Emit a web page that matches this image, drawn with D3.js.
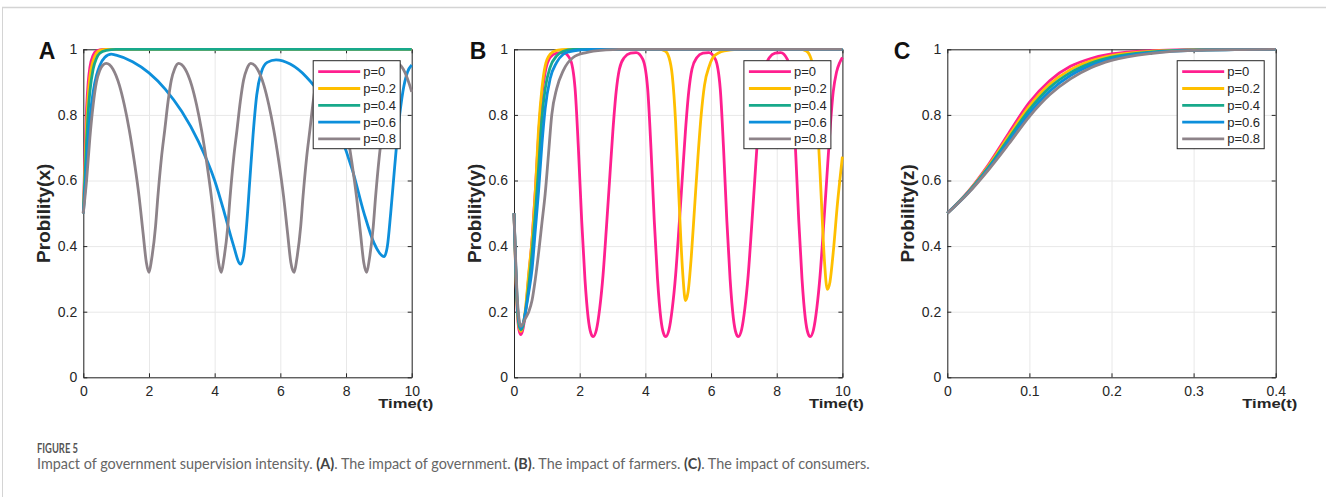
<!DOCTYPE html>
<html>
<head>
<meta charset="utf-8">
<script src="https://cdn.jsdelivr.net/npm/d3@7"></script>
<style>
  body { margin: 0; background: #fff; }
  svg { display: block; }
  .axis path, .axis line { stroke: #262626; }
  .grid line { stroke: #e8e8e8; }
  .grid path { display: none; }
</style>
</head>
<body>
<script>
var seriesNames = ["p=0", "p=0.2", "p=0.4", "p=0.6", "p=0.8"];
var colors = ["#ff1f8f", "#ffbf00", "#18a98b", "#0d8fdb", "#8d8389"];
var yTicks = [0, 0.2, 0.4, 0.6, 0.8, 1];
var xTicksAB = [0, 2, 4, 6, 8, 10];
var xTicksC = [0, 0.1, 0.2, 0.3, 0.4];

// panel A: government, x(t)
var aP0 = [[0,0.5],[0.05,0.68],[0.1,0.82],[0.15,0.9],[0.2,0.945],[0.3,0.982],[0.4,0.995],[0.6,1],[10,1]];
var aP2 = [[0,0.5],[0.05,0.64],[0.1,0.77],[0.15,0.86],[0.2,0.915],[0.3,0.965],[0.4,0.988],[0.5,0.996],[0.7,1],[10,1]];
var aP4 = [[0,0.5],[0.05,0.61],[0.1,0.72],[0.15,0.81],[0.2,0.87],[0.3,0.94],[0.4,0.972],[0.5,0.988],[0.7,0.997],[1,1],[10,1]];
var aP6 = [[0,0.5],[0.05,0.57],[0.1,0.65],[0.15,0.73],[0.2,0.79],[0.3,0.87],[0.4,0.92],[0.5,0.95],[0.65,0.975],[0.85,0.985],
  [1,0.982],[1.5,0.962],[2,0.928],[2.5,0.878],[3,0.81],[3.5,0.72],[4,0.6],[4.3,0.5],[4.55,0.41],[4.79,0.345],
  [4.88,0.37],[4.97,0.46],[5.07,0.6],[5.17,0.74],[5.28,0.86],[5.42,0.93],[5.6,0.96],[5.87,0.968],[6.3,0.955],
  [6.8,0.915],[7.3,0.85],[7.8,0.745],[8.2,0.63],[8.55,0.5],[8.85,0.41],[9.16,0.368],[9.26,0.4],[9.36,0.5],
  [9.48,0.64],[9.6,0.77],[9.73,0.87],[9.87,0.93],[10,0.952]];
var aP8 = [[0,0.5],[0.1,0.6],[0.2,0.73],[0.3,0.83],[0.4,0.9],[0.5,0.935],[0.6,0.952],[0.7,0.957],
  [0.9,0.94],[1.1,0.89],[1.25,0.83],[1.4,0.754],[1.55,0.66],[1.7,0.55],[1.82,0.44],[1.92,0.35],[2,0.32],
  [2.08,0.36],[2.2,0.46],[2.27,0.55],[2.38,0.67],[2.48,0.754],[2.58,0.84],[2.68,0.906],[2.78,0.94],[2.9,0.957],
  [3.1,0.94],[3.3,0.89],[3.45,0.83],[3.6,0.754],[3.75,0.66],[3.9,0.55],[4.02,0.44],[4.12,0.35],[4.2,0.32],
  [4.28,0.36],[4.4,0.46],[4.47,0.55],[4.58,0.67],[4.68,0.754],[4.78,0.84],[4.88,0.906],[4.98,0.94],[5.1,0.957],
  [5.3,0.94],[5.5,0.89],[5.65,0.83],[5.8,0.754],[5.95,0.66],[6.1,0.55],[6.22,0.44],[6.32,0.35],[6.42,0.32],
  [6.5,0.36],[6.62,0.46],[6.69,0.55],[6.8,0.67],[6.9,0.754],[7,0.84],[7.1,0.906],[7.2,0.94],[7.32,0.957],
  [7.52,0.94],[7.72,0.89],[7.87,0.83],[8.02,0.754],[8.17,0.66],[8.32,0.55],[8.44,0.44],[8.54,0.35],[8.63,0.32],
  [8.71,0.36],[8.83,0.46],[8.9,0.55],[9.01,0.67],[9.11,0.754],[9.21,0.84],[9.31,0.906],[9.41,0.94],[9.54,0.957],
  [9.74,0.94],[9.94,0.89],[10,0.87]];

// panel B: farmers, y(t)
var bP0 = [[0,0.5],[0.05,0.33],[0.1,0.2],[0.15,0.145],[0.21,0.13],[0.28,0.15],[0.35,0.2],[0.45,0.31],[0.55,0.42],
  [0.65,0.57],[0.75,0.74],[0.85,0.86],[0.95,0.93],[1.1,0.975],[1.3,0.988],[1.5,0.99],
  [1.71,0.97],[1.86,0.88],[1.96,0.7],[2.06,0.48],[2.16,0.3],[2.26,0.18],[2.34,0.135],[2.41,0.124],
  [2.51,0.145],[2.61,0.21],[2.71,0.31],[2.81,0.45],[2.91,0.6],[3.01,0.75],[3.11,0.87],[3.21,0.94],[3.36,0.975],[3.55,0.988],[3.72,0.99],
  [3.92,0.97],[4.07,0.88],[4.17,0.7],[4.27,0.48],[4.37,0.3],[4.47,0.18],[4.55,0.135],[4.62,0.124],
  [4.72,0.145],[4.82,0.21],[4.92,0.31],[5.02,0.45],[5.12,0.6],[5.22,0.75],[5.32,0.87],[5.42,0.94],[5.57,0.975],[5.75,0.988],[5.93,0.99],
  [6.13,0.97],[6.28,0.88],[6.38,0.7],[6.48,0.48],[6.58,0.3],[6.68,0.18],[6.76,0.135],[6.83,0.124],
  [6.93,0.145],[7.03,0.21],[7.13,0.31],[7.23,0.45],[7.33,0.6],[7.43,0.75],[7.53,0.87],[7.63,0.94],[7.78,0.975],[7.95,0.988],[8.12,0.99],
  [8.32,0.97],[8.47,0.88],[8.57,0.7],[8.67,0.48],[8.77,0.3],[8.87,0.18],[8.95,0.135],[9.02,0.124],
  [9.12,0.145],[9.22,0.21],[9.32,0.31],[9.42,0.45],[9.52,0.6],[9.62,0.75],[9.72,0.87],[9.82,0.93],[9.92,0.96],[10,0.975]];
var bP2 = [[0,0.5],[0.05,0.33],[0.1,0.21],[0.15,0.155],[0.21,0.14],[0.28,0.16],[0.35,0.21],[0.45,0.32],[0.55,0.42],
  [0.65,0.57],[0.75,0.76],[0.85,0.88],[0.95,0.95],[1.1,0.985],[1.3,0.997],[1.6,1],[4.4,1],[4.6,0.995],[4.72,0.975],
  [4.82,0.92],[4.92,0.78],[5,0.6],[5.08,0.42],[5.15,0.3],[5.22,0.234],[5.3,0.26],[5.4,0.37],[5.5,0.52],[5.6,0.67],
  [5.7,0.8],[5.8,0.89],[5.95,0.95],[6.1,0.98],[6.4,0.995],[6.8,1],[8.7,1],[8.9,0.995],[9.05,0.97],[9.15,0.9],
  [9.25,0.76],[9.35,0.56],[9.45,0.36],[9.54,0.268],[9.62,0.29],[9.72,0.38],[9.85,0.53],[10,0.673]];
var bP4 = [[0,0.5],[0.05,0.34],[0.1,0.22],[0.15,0.16],[0.21,0.145],[0.28,0.16],[0.35,0.2],[0.45,0.28],[0.55,0.38],
  [0.65,0.5],[0.75,0.64],[0.85,0.79],[0.95,0.88],[1.1,0.945],[1.3,0.98],[1.5,0.994],[1.8,1],[10,1]];
var bP6 = [[0,0.5],[0.05,0.35],[0.1,0.23],[0.15,0.17],[0.21,0.15],[0.28,0.165],[0.35,0.2],[0.45,0.26],[0.55,0.33],
  [0.65,0.45],[0.75,0.57],[0.85,0.71],[0.95,0.82],[1.1,0.91],[1.3,0.96],[1.5,0.985],[1.7,0.993],[2,0.998],[2.4,1],[10,1]];
var bP8 = [[0,0.5],[0.05,0.36],[0.1,0.24],[0.15,0.18],[0.21,0.155],[0.28,0.165],[0.35,0.18],[0.45,0.2],[0.55,0.235],
  [0.65,0.3],[0.75,0.38],[0.85,0.47],[0.95,0.56],[1.05,0.68],[1.15,0.8],[1.3,0.88],[1.5,0.935],[1.8,0.975],
  [2.2,0.99],[2.8,0.998],[3.2,1],[10,1]];

// panel C: consumers, z(t)
var cP0 = [[0,0.5],[0.025,0.565],[0.05,0.648],[0.075,0.745],[0.1,0.838],[0.125,0.905],[0.15,0.948],[0.175,0.972],[0.2,0.986],[0.25,0.996],[0.3,0.999],[0.35,1],[0.4,1]];
var cP2 = [[0,0.5],[0.025,0.564],[0.05,0.644],[0.075,0.737],[0.1,0.827],[0.125,0.894],[0.15,0.938],[0.175,0.965],[0.2,0.981],[0.25,0.994],[0.3,0.998],[0.35,1],[0.4,1]];
var cP4 = [[0,0.5],[0.025,0.563],[0.05,0.64],[0.075,0.729],[0.1,0.816],[0.125,0.884],[0.15,0.929],[0.175,0.958],[0.2,0.976],[0.25,0.992],[0.3,0.998],[0.35,0.999],[0.4,1]];
var cP6 = [[0,0.5],[0.025,0.561],[0.05,0.636],[0.075,0.72],[0.1,0.805],[0.125,0.873],[0.15,0.92],[0.175,0.951],[0.2,0.971],[0.25,0.99],[0.3,0.997],[0.35,0.999],[0.4,1]];
var cP8 = [[0,0.5],[0.025,0.56],[0.05,0.632],[0.075,0.712],[0.1,0.795],[0.125,0.862],[0.15,0.91],[0.175,0.944],[0.2,0.966],[0.25,0.988],[0.3,0.997],[0.35,0.999],[0.4,1]];

var panels = [
  {letter: "A", letterX: 47, label: "Probility(x)", left: 83.3, xMax: 10, xTicks: xTicksAB, series: [aP0, aP2, aP4, aP6, aP8]},
  {letter: "B", letterX: 478, label: "Probility(y)", left: 514, xMax: 10, xTicks: xTicksAB, series: [bP0, bP2, bP4, bP6, bP8]},
  {letter: "C", letterX: 902, label: "Probility(z)", left: 947.3, xMax: 0.4, xTicks: xTicksC, series: [cP0, cP2, cP4, cP6, cP8]}
];

var W = 1326, H = 497;
var top0 = 49.3, plotW = 328.4, plotH = 328;
var chartFont = "'Liberation Sans', Arial, sans-serif";

var svg = d3.select("body").append("svg")
  .attr("width", W)
  .attr("height", H);

// page frame
svg.append("line").attr("x1", 2).attr("x2", W).attr("y1", 7.5).attr("y2", 7.5)
  .attr("stroke", "#d4d4d4").attr("stroke-width", 1.5);
svg.append("line").attr("x1", 2.5).attr("x2", 2.5).attr("y1", 7).attr("y2", H)
  .attr("stroke", "#d4d4d4").attr("stroke-width", 1);

function styleTicks(sel){
  sel.selectAll("text")
    .style("font-family", chartFont)
    .style("font-size", "14px")
    .style("fill", "#262626");
}

panels.forEach(function(p){
  var x = d3.scaleLinear().domain([0, p.xMax]).range([0, plotW]);
  var y = d3.scaleLinear().domain([0, 1]).range([plotH, 0]);

  var g = svg.append("g")
    .attr("transform", "translate(" + p.left + "," + top0 + ")");

  g.append("rect").attr("width", plotW).attr("height", plotH).attr("fill", "#fff");

  //gridlines
  g.append("g").classed("grid", true)
    .call(d3.axisLeft(y).tickValues(yTicks).tickSize(-plotW).tickFormat(""));
  g.append("g").classed("grid", true)
    .attr("transform", "translate(0," + plotH + ")")
    .call(d3.axisBottom(x).tickValues(p.xTicks).tickSize(-plotH).tickFormat(""));

  // box with inward ticks on all sides
  g.append("g").classed("axis", true)
    .call(d3.axisLeft(y).tickValues(yTicks).tickSizeInner(-4).tickSizeOuter(0).tickPadding(6)
      .tickFormat(function(d){ return d3.format("~g")(d); }))
    .call(styleTicks);
  g.append("g").classed("axis", true)
    .attr("transform", "translate(" + plotW + ",0)")
    .call(d3.axisRight(y).tickValues(yTicks).tickSizeInner(-4).tickSizeOuter(0).tickFormat(""));
  g.append("g").classed("axis", true)
    .attr("transform", "translate(0," + plotH + ")")
    .call(d3.axisBottom(x).tickValues(p.xTicks).tickSizeInner(-4).tickSizeOuter(0).tickPadding(8.5)
      .tickFormat(function(d){ return d3.format("~g")(d); }))
    .call(styleTicks);
  g.append("g").classed("axis", true)
    .call(d3.axisTop(x).tickValues(p.xTicks).tickSizeInner(-4).tickSizeOuter(0).tickFormat(""));

  var line = d3.line()
    .x(function(d){ return x(d[0]); })
    .y(function(d){ return y(d[1]); })
    .curve(d3.curveMonotoneX);

  g.selectAll(".series")
    .data(p.series)
    .enter()
      .append("path")
      .classed("series", true)
      .attr("d", line)
      .attr("fill", "none")
      .attr("stroke", function(d, i){ return colors[i]; })
      .attr("stroke-width", 2.8)
      .attr("stroke-linejoin", "round");

  // legend
  var lg = g.append("g")
    .attr("transform", "translate(" + (plotW - 11.5 - 87) + ",11.4)");
  lg.append("rect")
    .attr("width", 87).attr("height", 88)
    .attr("fill", "#fff").attr("stroke", "#262626").attr("stroke-width", 1);
  var rows = lg.selectAll(".row")
    .data(seriesNames)
    .enter()
      .append("g")
      .attr("transform", function(d, i){ return "translate(0," + (11 + i * 16.8) + ")"; });
  rows.append("line")
    .attr("x1", 5).attr("x2", 47)
    .attr("stroke", function(d, i){ return colors[i]; })
    .attr("stroke-width", 2.8);
  rows.append("text")
    .attr("x", 50).attr("dy", "0.35em")
    .style("font-family", chartFont)
    .style("font-size", "13px")
    .style("fill", "#262626")
    .text(function(d){ return d; });

  // axis titles
  g.append("text")
    .attr("transform", "translate(-40," + plotH / 2 + ") rotate(-90)")
    .style("text-anchor", "middle")
    .attr("dy", "0.35em")
    .style("font-family", chartFont)
    .style("font-weight", "bold")
    .style("font-size", "19px")
    .style("fill", "#262626")
    .text(p.label);
  g.append("text")
    .attr("x", plotW - 33.5).attr("y", plotH + 30.5)
    .attr("textLength", 55)
    .attr("lengthAdjust", "spacingAndGlyphs")
    .style("font-family", chartFont)
    .style("font-weight", "bold")
    .style("font-size", "12.5px")
    .style("fill", "#262626")
    .text("Time(t)");

  svg.append("text")
    .attr("x", p.letterX).attr("y", 58.5)
    .style("text-anchor", "middle")
    .style("font-family", chartFont)
    .style("font-weight", "bold")
    .style("font-size", "23px")
    .style("fill", "#111")
    .text(p.letter);
});

// caption
svg.append("text")
  .attr("x", 37).attr("y", 453.3)
  .attr("textLength", 41)
  .attr("lengthAdjust", "spacingAndGlyphs")
  .style("font-family", "Lato, sans-serif")
  .style("font-weight", "bold")
  .style("font-size", "13px")
  .style("fill", "#555")
  .text("FIGURE 5");

var captionParts = [
  ["Impact of government supervision intensity. ", false],
  ["(A)", true], [". The impact of government. ", false],
  ["(B)", true], [". The impact of farmers. ", false],
  ["(C)", true], [". The impact of consumers.", false]
];
var cap = svg.append("text")
  .attr("x", 37).attr("y", 468.5)
  .style("font-family", "Lato, sans-serif")
  .style("font-size", "14.4px")
  .style("fill", "#666");
cap.selectAll("tspan")
  .data(captionParts)
  .enter()
    .append("tspan")
    .style("font-weight", function(d){ return d[1] ? "bold" : "normal"; })
    .style("fill", function(d){ return d[1] ? "#444" : "#666"; })
    .text(function(d){ return d[0]; });
</script>
</body>
</html>
